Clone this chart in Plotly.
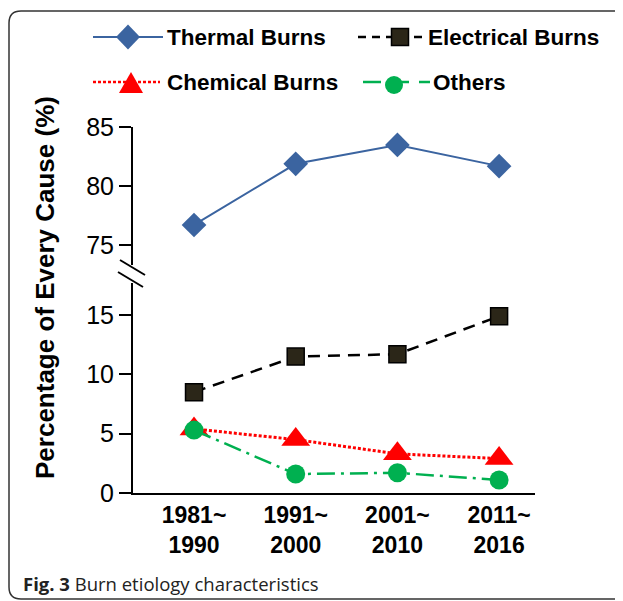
import plotly.graph_objects as go

# Страница добавляет отступ 8px, поэтому фигура чуть меньше окна
OFF = 8
W, H = 615, 593

# Данные
periods = ["1981~<br>1990", "1991~<br>2000", "2001~<br>2010", "2011~<br>2016"]
thermal = [76.7, 81.9, 83.5, 81.7]
electrical = [8.5, 11.5, 11.7, 14.9]
chemical = [5.4, 4.5, 3.3, 2.9]
others = [5.3, 1.6, 1.7, 1.1]

BLUE = "#3B64A0"
DARK = "#2B2618"
RED = "#FF0000"
GREEN = "#00B050"
FONT = "Arial, Liberation Sans, sans-serif"


def px(x):
    return (x - OFF) / W


def py(y):
    return 1 - (y - OFF) / H


fig = go.Figure()

# Верхняя часть оси (термические ожоги)
fig.add_trace(go.Scatter(x=periods, y=thermal, xaxis="x", yaxis="y2", mode="lines+markers",
                         line=dict(color=BLUE, width=2),
                         marker=dict(symbol="diamond", size=19, color=BLUE), showlegend=False))

# Нижняя часть оси
fig.add_trace(go.Scatter(x=periods, y=electrical, mode="lines+markers",
                         line=dict(color="black", width=2.5, dash="12px,8px"),
                         marker=dict(symbol="square", size=17, color=DARK, line=dict(color="black", width=1.5)),
                         showlegend=False))
fig.add_trace(go.Scatter(x=periods, y=chemical, mode="lines+markers",
                         line=dict(color=RED, width=3, dash="3px,2px"),
                         marker=dict(symbol="triangle-up", size=25, color=RED), showlegend=False))
fig.add_trace(go.Scatter(x=periods, y=others, mode="lines+markers",
                         line=dict(color=GREEN, width=2.5, dash="18px,6px,3px,6px"),
                         marker=dict(symbol="circle", size=19, color=GREEN), showlegend=False))

axis_common = dict(showline=True, linecolor="black", linewidth=2, ticks="outside", ticklen=12,
                   tickwidth=2, tickcolor="black", showgrid=False, zeroline=False,
                   tickfont=dict(family=FONT, size=25, color="black"), automargin=False)

fig.update_layout(
    width=W, height=H,
    margin=dict(l=0, r=0, t=0, b=0),
    paper_bgcolor="white", plot_bgcolor="white",
    xaxis=dict(domain=[px(133), px(535)], type="category", categoryarray=periods,
               range=[-0.6, 3.353], showline=True, linecolor="black", linewidth=2,
               ticks="", showgrid=False, zeroline=False, automargin=False,
               tickfont=dict(family=FONT, size=23, color="black", weight="bold"), anchor="y"),
    yaxis=dict(domain=[py(493), py(283)], range=[0, 17.7], tickvals=[0, 5, 10, 15], anchor="x",
               **axis_common),
    yaxis2=dict(domain=[py(265), py(127.3)], range=[73.3, 85], tickvals=[75, 80, 85], anchor="x",
                **axis_common),
)

shapes = []
# Разрыв оси
shapes.append(dict(type="line", xref="paper", yref="paper", x0=px(120), y0=py(260), x1=px(145), y1=py(275),
                   line=dict(color="black", width=2)))
shapes.append(dict(type="line", xref="paper", yref="paper", x0=px(118), y0=py(272), x1=px(143), y1=py(287),
                   line=dict(color="black", width=2)))

# Рамка с закруглёнными углами
border = "M {},{} L {},{} Q {},{} {},{} L {},{} Q {},{} {},{} L {},{}".format(
    px(640), py(11), px(21), py(11), px(9), py(11), px(9), py(23),
    px(9), py(587), px(9), py(599), px(21), py(599), px(640), py(599))
shapes.append(dict(type="path", xref="paper", yref="paper", path=border,
                   line=dict(color="#333333", width=1.5)))


def path(points):
    return "M " + " L ".join("{},{}".format(px(a), py(b)) for a, b in points) + " Z"


# Легенда (рисуется вручную)
ry1, ry2 = 37, 82
shapes.append(dict(type="line", xref="paper", yref="paper", x0=px(93), y0=py(ry1), x1=px(163), y1=py(ry1),
                   line=dict(color=BLUE, width=2)))
shapes.append(dict(type="path", xref="paper", yref="paper", fillcolor=BLUE, line=dict(width=0),
                   path=path([(128, ry1 - 12.5), (140, ry1), (128, ry1 + 12.5), (116, ry1)])))

shapes.append(dict(type="line", xref="paper", yref="paper", x0=px(358), y0=py(ry1), x1=px(422), y1=py(ry1),
                   line=dict(color="black", width=2.5, dash="8px,6px")))
shapes.append(dict(type="rect", xref="paper", yref="paper", x0=px(391.5), y0=py(ry1 - 8.5), x1=px(408.5),
                   y1=py(ry1 + 8.5), fillcolor=DARK, line=dict(color="black", width=1.5)))

shapes.append(dict(type="line", xref="paper", yref="paper", x0=px(93), y0=py(ry2), x1=px(160), y1=py(ry2),
                   line=dict(color=RED, width=2.5, dash="3px,2px")))
shapes.append(dict(type="path", xref="paper", yref="paper", fillcolor=RED, line=dict(width=0),
                   path=path([(131, 72), (143, 93), (119, 93)])))

shapes.append(dict(type="line", xref="paper", yref="paper", x0=px(363), y0=py(ry2), x1=px(430), y1=py(ry2),
                   line=dict(color=GREEN, width=2.5, dash="18px,10px")))
shapes.append(dict(type="circle", xref="paper", yref="paper", x0=px(385), y0=py(76), x1=px(403), y1=py(94),
                   fillcolor=GREEN, line=dict(width=0)))

fig.update_layout(shapes=shapes)

legend_font = dict(family=FONT, size=22.5, color="black", weight="bold")
for text, x, y in [("Thermal Burns", 165, ry1), ("Electrical Burns", 426, ry1),
                   ("Chemical Burns", 165, ry2), ("Others", 431, ry2)]:
    fig.add_annotation(text=text, xref="paper", yref="paper", x=px(x), y=py(y), xanchor="left",
                       yanchor="middle", showarrow=False, font=legend_font)

# Подпись оси Y
fig.add_annotation(text="Percentage of Every Cause (%)", xref="paper", yref="paper", x=px(45), y=py(288),
                   textangle=-90, showarrow=False, xanchor="center", yanchor="middle",
                   font=dict(family=FONT, size=26, color="black", weight="bold"))

# Подпись рисунка
fig.add_annotation(text="<b>Fig. 3</b> Burn etiology characteristics", xref="paper", yref="paper",
                   x=px(21), y=py(583), xanchor="left", yanchor="middle", showarrow=False,
                   font=dict(family="Open Sans", size=18.5, color="#222222"))

fig.write_html("out.html")
